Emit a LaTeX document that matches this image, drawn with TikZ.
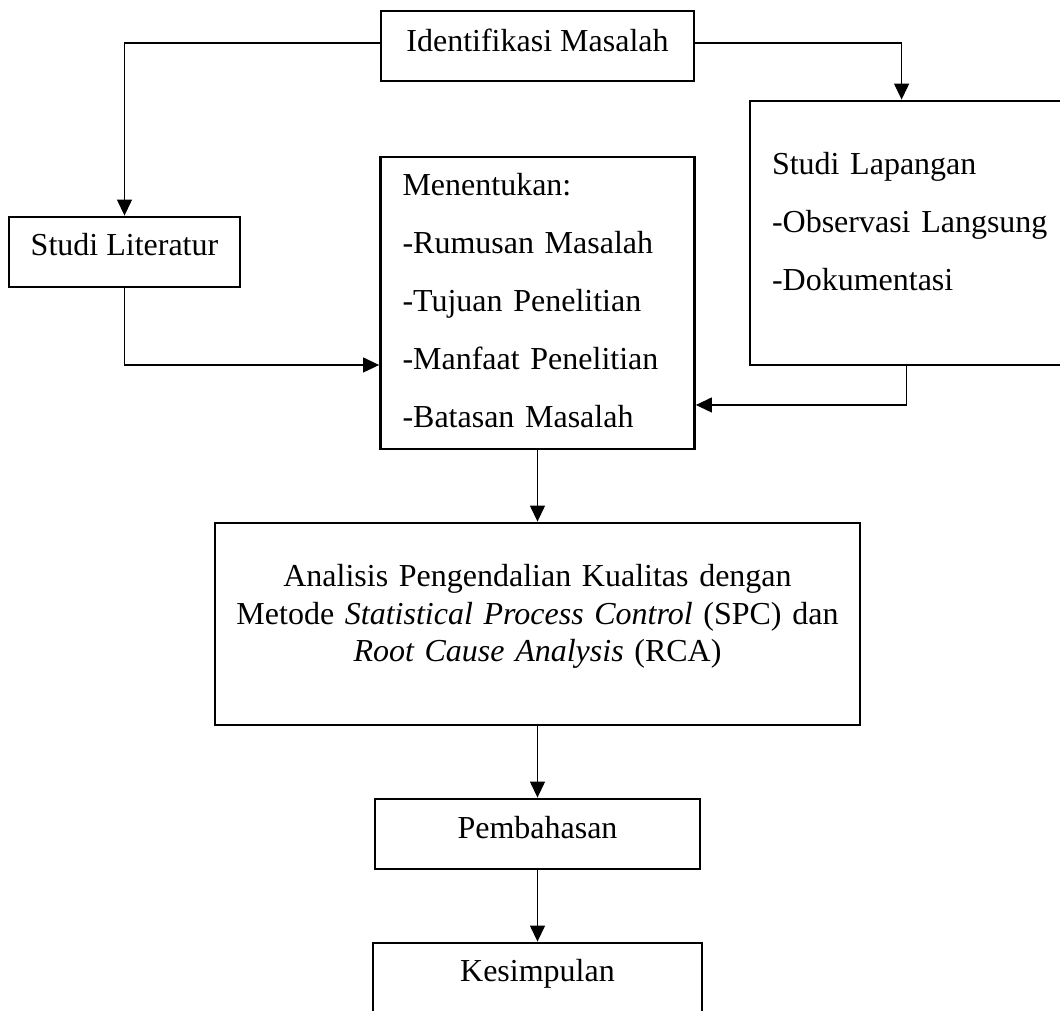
\documentclass[tikz,border=0pt]{standalone}
\usepackage{fontspec}
\setmainfont{Liberation Serif}
\usetikzlibrary{arrows.meta}

\begin{document}
\begin{tikzpicture}[x=1pt,y=1pt,->,>={Triangle[length=16pt,width=15pt]},line width=1.2pt,
  font=\fontsize{32}{37}\selectfont]

% Define block styles
\tikzstyle{block} = [rectangle, draw, line width=2.8pt, inner sep=0pt]
\tikzstyle{single} = [block, text height=41pt, text depth=29pt]
\tikzstyle{list} = [block, align=left, inner xsep=22pt, inner ysep=0pt,
    font=\fontsize{32}{58}\selectfont]

\useasboundingbox (0,0) rectangle (1060,1011);

\node[single, minimum width=313pt]	(ident)	at (537.5,965)	{Identifikasi Masalah};
\node[list, text width=270pt, text height=39pt, text depth=253pt]	(tentu)
    [below of=ident, node distance=257pt]
    {Menentukan:\\-Rumusan Masalah\\-Tujuan Penelitian\\-Manfaat Penelitian\\-Batasan Masalah};
\node[single, minimum width=231pt, text height=39pt, text depth=31pt]	(lit)
    [left of=tentu, node distance=413pt, yshift=51pt]	{Studi Literatur};
\node[list, text width=290pt, text height=74pt, text depth=190pt]	(lap)
    [right of=tentu, node distance=379.5pt, yshift=70pt]
    {Studi Lapangan\\-Observasi Langsung\\-Dokumentasi};
\node[block, text width=645pt, align=center, text height=64pt, text depth=138pt,
    font=\fontsize{32}{37.5}\selectfont]	(ana)	[below of=tentu, node distance=321pt]
    {Analisis Pengendalian Kualitas dengan\\Metode \textit{Statistical Process Control} (SPC) dan\\\textit{Root Cause Analysis} (RCA)};
\node[single, minimum width=325pt, text height=40pt, text depth=30pt]	(pemb)
    [below of=ana, node distance=210pt]	{Pembahasan};
\node[single, minimum width=329pt, text height=39pt, text depth=100pt]	(kesim)
    [below of=pemb, node distance=178.5pt]	{Kesimpulan};

% Connectors
\draw ([yshift=3pt]ident.west) -| (lit.north);
\draw ([yshift=3pt]ident.east) -| ([xshift=153pt]lap.north west);
\draw (lit.south) |- ([yshift=-62pt]tentu.west);
\draw ([xshift=158pt]lap.south west) |- ([yshift=-102pt]tentu.east);
\draw (tentu.south) -- (ana.north);
\draw (ana.south) -- (pemb.north);
\draw (pemb.south) -- (kesim.north);

\end{tikzpicture}
\end{document}
